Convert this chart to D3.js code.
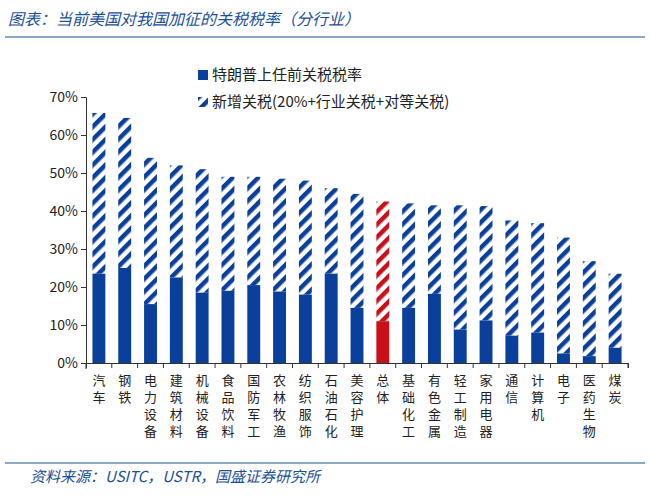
<!DOCTYPE html><html><head><meta charset="utf-8"><script src="https://cdn.jsdelivr.net/npm/d3@7"></script>
<style>body{margin:0;background:#fff}</style></head><body><svg id="c" width="650" height="497"></svg>
<script>
const categories=["汽车","钢铁","电力设备","建筑材料","机械设备","食品饮料","国防军工","农林牧渔","纺织服饰","石油石化","美容护理","总体","基础化工","有色金属","轻工制造","家用电器","通信","计算机","电子","医药生物","煤炭"];
const baseRate=[23.5,25,15.5,22.5,18.5,19,20.5,18.8,18,23.5,14.5,11,14.5,18.2,8.8,11.2,7.2,8,2.5,1.8,4];
const totalRate=[65.8,64.5,54,52,51,49,49,48.5,48,46,44.5,42.5,42,41.5,41.5,41.3,37.5,36.8,33,26.8,23.5];
const yTicks=[0,10,20,30,40,50,60,70];
const svg=d3.select("#c");const F="'Noto Sans CJK SC',sans-serif";
const blue="#0b3f9c",red="#c8101a";
const defs=svg.append("defs");
[["hb",blue],["hr",red]].forEach(([id,c])=>{const p=defs.append("pattern").attr("id",id).attr("patternUnits","userSpaceOnUse").attr("width",9).attr("height",9).attr("patternTransform","rotate(45)");
p.append("rect").attr("width",4.5).attr("height",9).attr("fill",c);});
svg.append("text").attr("x",8).attr("y",25).attr("font-family",F).attr("font-style","italic").attr("font-size",16).attr("fill","#1a4f9a").text("图表：当前美国对我国加征的关税税率（分行业）");
svg.append("line").attr("x1",5).attr("x2",645).attr("y1",37).attr("y2",37).attr("stroke","#1a4f9a").attr("stroke-width",1.2);
svg.append("line").attr("x1",5).attr("x2",645).attr("y1",463).attr("y2",463).attr("stroke","#1a4f9a").attr("stroke-width",1.2);
svg.append("text").attr("x",30).attr("y",482).attr("font-family",F).attr("font-style","italic").attr("font-size",15).attr("fill","#1a4f9a").text("资料来源：USITC，USTR，国盛证券研究所");
const x=d3.scaleBand().domain(categories).range([86,628]).paddingInner(0.5).paddingOuter(0.25);
const y=d3.scaleLinear().domain([0,70]).range([363,97]);
const ax=svg.append("g").attr("transform","translate(86,0)").call(d3.axisLeft(y).tickValues(yTicks).tickFormat(d=>d+"%").tickSize(5));
ax.selectAll("text").attr("font-family",F).attr("font-size",14).attr("fill","#222");
const bx=svg.append("g").attr("transform","translate(0,363)").call(d3.axisBottom(x).tickSize(5).tickFormat(""));
bx.selectAll(".tick line").attr("transform",`translate(${x.step()/2},0)`);
svg.selectAll(".domain,.tick line").attr("stroke","#333");
svg.append("line").attr("x1",86).attr("x2",86).attr("y1",363).attr("y2",369).attr("stroke","#333");
categories.forEach((c,i)=>{const tot=c==="总体";
svg.append("rect").attr("x",x(c)).attr("width",x.bandwidth()).attr("y",y(totalRate[i])).attr("height",y(baseRate[i])-y(totalRate[i])).attr("fill",tot?"url(#hr)":"url(#hb)");
svg.append("rect").attr("x",x(c)).attr("width",x.bandwidth()).attr("y",y(baseRate[i])).attr("height",y(0)-y(baseRate[i])).attr("fill",tot?red:blue);
[...c].forEach((ch,k)=>svg.append("text").attr("x",x(c)+x.bandwidth()/2).attr("y",385+k*17).attr("text-anchor","middle").attr("font-family",F).attr("font-size",13).attr("fill","#222").text(ch));});
svg.append("rect").attr("x",198).attr("y",70).attr("width",10).attr("height",10).attr("fill",blue);
svg.append("text").attr("x",212).attr("y",80).attr("font-family",F).attr("font-size",15).attr("fill","#222").text("特朗普上任前关税税率");
svg.append("rect").attr("x",198).attr("y",97).attr("width",10).attr("height",10).attr("fill","url(#hb)");
svg.append("text").attr("x",212).attr("y",107).attr("font-family",F).attr("font-size",15).attr("fill","#222").text("新增关税(20%+行业关税+对等关税)");
</script></body></html>
